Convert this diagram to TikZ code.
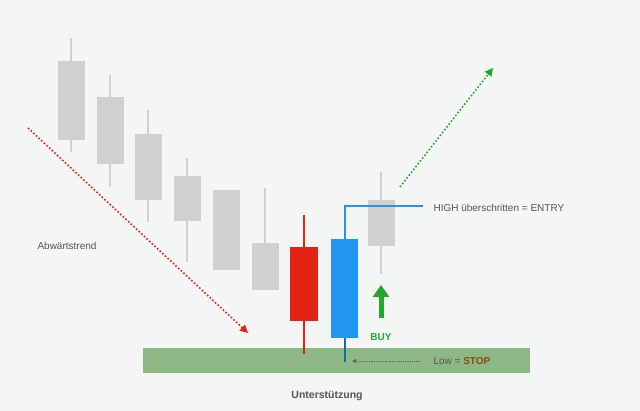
\documentclass[tikz,border=0pt]{standalone}
\usepackage{fontspec}
\setmainfont{Liberation Sans}
\usetikzlibrary{arrows.meta}
\definecolor{bg}{HTML}{F4F5F5}
\definecolor{cgray}{HTML}{D0D0D0}
\definecolor{cred}{HTML}{E32414}
\definecolor{cblue}{HTML}{2196F0}
\definecolor{cgreen}{HTML}{22A82A}
\definecolor{band}{HTML}{8DB784}
\definecolor{stopc}{HTML}{8B4A12}
\definecolor{txt}{HTML}{555555}
\begin{document}
\begin{tikzpicture}[x=1pt,y=-1pt,
  wick/.style={line width=2pt},
  lbl/.style={font=\fontsize{10}{12}\selectfont,text=txt}]
\useasboundingbox (0,0) rectangle (640,411);
\fill[bg] (0,0) rectangle (640,411);
\fill[band] (143,348) rectangle (530,373);
% gray candles
\foreach \x/\bt/\bb/\wt/\wb in {71/61/140/38/152,110/97/164/75/187,148/134/200/110/222,187/176/221/158/262,265/243/290/188/290,381/200/246/172/274}{
  \draw[wick,cgray] (\x,\wt) -- (\x,\wb);
  \fill[cgray] (\x-13.5,\bt) rectangle (\x+13.5,\bb);
}
\fill[cgray] (213,190) rectangle (240,270);
% red candle
\draw[wick,cred] (304,215) -- (304,354);
\fill[cred] (290,247) rectangle (318,321);
% blue candle
\draw[wick,cblue!70!black] (345,338) -- (345,362);
\fill[cblue] (331,239) rectangle (358,338);
\draw[cblue,line width=2pt] (345,240) -- (345,206) -- (423,206);
% arrows
\coordinate (r1) at (28,128); \coordinate (r2) at (248,333);
\draw[cred,line width=1.6pt,dotted,-{Triangle[length=8pt,width=8pt]}] (r1) -- (r2);
\coordinate (g1) at (400,187); \coordinate (g2) at (493,68);
\draw[cgreen,line width=1.6pt,dotted,-{Triangle[length=8pt,width=8pt]}] (g1) -- (g2);
\coordinate (s1) at (420,361); \coordinate (s2) at (352,361);
\draw[black!60,densely dotted,line width=0.8pt,-{Triangle[length=4pt,width=4pt]}] (s1) -- (s2);
\coordinate (b1) at (381,318); \coordinate (b2) at (381,285);
\draw[cgreen,line width=5pt,-{Triangle[length=12pt,width=16pt]}] (b1) -- (b2);
% texts
\node[lbl,anchor=west] (ab) at (34,246) {Abwärtstrend};
\node[lbl,anchor=west] (hi) at (430,208) {HIGH überschritten = ENTRY};
\node[lbl,anchor=west] (lo) at (430,361) {Low = \textbf{\textcolor{stopc}{STOP}}};
\node[font=\bfseries\fontsize{10}{12}\selectfont,text=cgreen] (buy) at (381,337) {BUY};
\node[font=\bfseries\fontsize{10.5}{12}\selectfont,text=txt] (un) at (327,396) {Unterstützung};
\end{tikzpicture}
\end{document}
